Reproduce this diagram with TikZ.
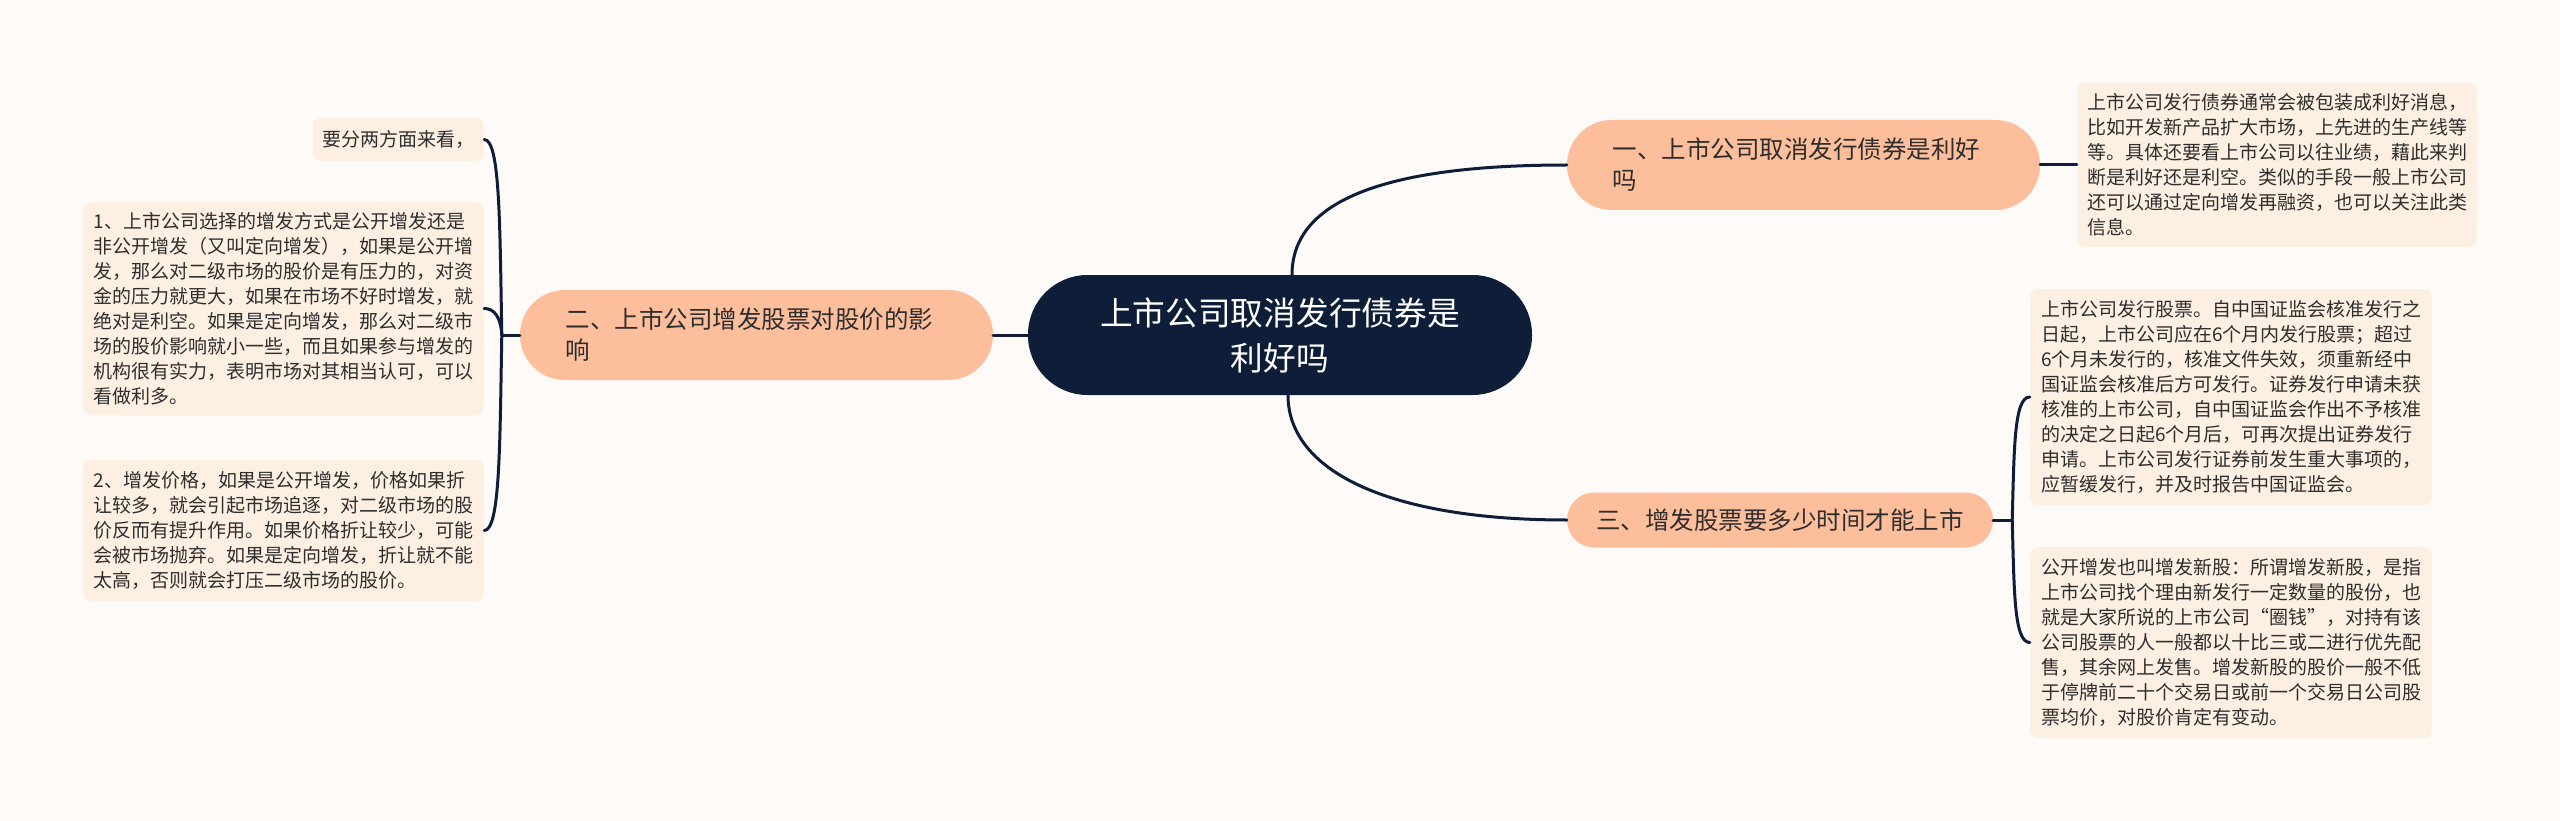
\documentclass[tikz,border=0pt]{standalone}
\usepackage{fontspec}
\newfontfamily\cjk{Noto Sans CJK SC}
\definecolor{navy}{HTML}{0F1E38}
\definecolor{peach}{HTML}{FDBE9C}
\definecolor{cream}{HTML}{FDEFE2}
\definecolor{bgc}{HTML}{FDFAF8}
\definecolor{txt}{HTML}{2E2E2E}
\tikzset{
  rootbox/.style={fill=navy, text=white, rounded corners=59.5pt, minimum width=504pt, minimum height=120pt, align=center, inner sep=0pt, font=\cjk\fontsize{32.7}{45}\selectfont},
  branchbox/.style={fill=peach, text=txt, align=left, inner ysep=0pt, font=\cjk\fontsize{24.5}{31}\selectfont},
  leafbox/.style={fill=cream, text=txt, rounded corners=8pt, align=left, inner sep=0pt, font=\cjk\fontsize{19}{25}\selectfont},
  conn/.style={draw=navy, line width=3pt, line cap=round}
}
\begin{document}
\begin{tikzpicture}[x=1pt,y=-1pt]
\useasboundingbox[fill=bgc] (0,0) rectangle (2560,821);

\node[rootbox] (root) at (1280,335) {上市公司取消发行债券是\\利好吗};

\node[branchbox, rounded corners=44.8pt, text width=382pt, inner xsep=45.5pt, minimum height=90pt] (b2) at (756.5,335) {二、上市公司增发股票对股价的影\\响};
\node[branchbox, rounded corners=44.8pt, text width=382pt, inner xsep=45.5pt, minimum height=90pt] (b1) at (1803.5,165) {一、上市公司取消发行债券是利好\\吗};
\node[branchbox, rounded corners=27.3pt, minimum width=426pt, minimum height=55pt, inner xsep=0pt] (b3) at (1780,520) {三、增发股票要多少时间才能上市};

\node[leafbox, minimum width=171pt, minimum height=43pt] (l0) at (398.5,139.5) {要分两方面来看，};
\node[leafbox, minimum width=401pt, minimum height=213pt] (l1) at (283.5,308.5) {1、上市公司选择的增发方式是公开增发还是\\
非公开增发（又叫定向增发），如果是公开增\\
发，那么对二级市场的股价是有压力的，对资\\
金的压力就更大，如果在市场不好时增发，就\\
绝对是利空。如果是定向增发，那么对二级市\\
场的股价影响就小一些，而且如果参与增发的\\
机构很有实力，表明市场对其相当认可，可以\\
看做利多。};
\node[leafbox, minimum width=401pt, minimum height=141pt] (l2) at (283.5,530.5) {2、增发价格，如果是公开增发，价格如果折\\
让较多，就会引起市场追逐，对二级市场的股\\
价反而有提升作用。如果价格折让较少，可能\\
会被市场抛弃。如果是定向增发，折让就不能\\
太高，否则就会打压二级市场的股价。};

\node[leafbox, minimum width=400pt, minimum height=164pt] (r1) at (2277,165) {上市公司发行债券通常会被包装成利好消息，\\
比如开发新产品扩大市场，上先进的生产线等\\
等。具体还要看上市公司以往业绩，藉此来判\\
断是利好还是利空。类似的手段一般上市公司\\
还可以通过定向增发再融资，也可以关注此类\\
信息。};
\node[leafbox, minimum width=402pt, minimum height=216pt] (r2) at (2231,397) {上市公司发行股票。自中国证监会核准发行之\\
日起，上市公司应在6个月内发行股票；超过\\
6个月未发行的，核准文件失效，须重新经中\\
国证监会核准后方可发行。证券发行申请未获\\
核准的上市公司，自中国证监会作出不予核准\\
的决定之日起6个月后，可再次提出证券发行\\
申请。上市公司发行证券前发生重大事项的，\\
应暂缓发行，并及时报告中国证监会。};
\node[leafbox, minimum width=402pt, minimum height=191pt] (r3) at (2231,642.5) {公开增发也叫增发新股：所谓增发新股，是指\\
上市公司找个理由新发行一定数量的股份，也\\
就是大家所说的上市公司“圈钱”，对持有该\\
公司股票的人一般都以十比三或二进行优先配\\
售，其余网上发售。增发新股的股价一般不低\\
于停牌前二十个交易日或前一个交易日公司股\\
票均价，对股价肯定有变动。};

% root connectors
\draw[conn] (root.west) -- (b2.east);
\draw[conn] ([xshift=12pt]root.north) .. controls +(0,-75) and +(-180,0) .. (b1.west);
\draw[conn] ([xshift=8pt]root.south) .. controls +(0,75) and +(-180,0) .. (b3.west);

% left bracket
\coordinate (jl) at ([xshift=-18pt]b2.west);
\draw[conn] (b2.west) -- (jl);
\draw[conn] (jl) .. controls +(-2,-110) and +(16,0) .. (l0.east);
\draw[conn] (jl) .. controls +(-1,-18) and +(10,0) .. (l1.east);
\draw[conn] (jl) .. controls +(-2,110) and +(16,0) .. (l2.east);

% right side
\draw[conn] (b1.east) -- (r1.west);
\coordinate (jr) at ([xshift=19pt]b3.east);
\draw[conn] (b3.east) -- (jr);
\draw[conn] (jr) .. controls +(2,-70) and +(-16,0) .. (r2.west);
\draw[conn] (jr) .. controls +(2,70) and +(-16,0) .. (r3.west);
\end{tikzpicture}
\end{document}
